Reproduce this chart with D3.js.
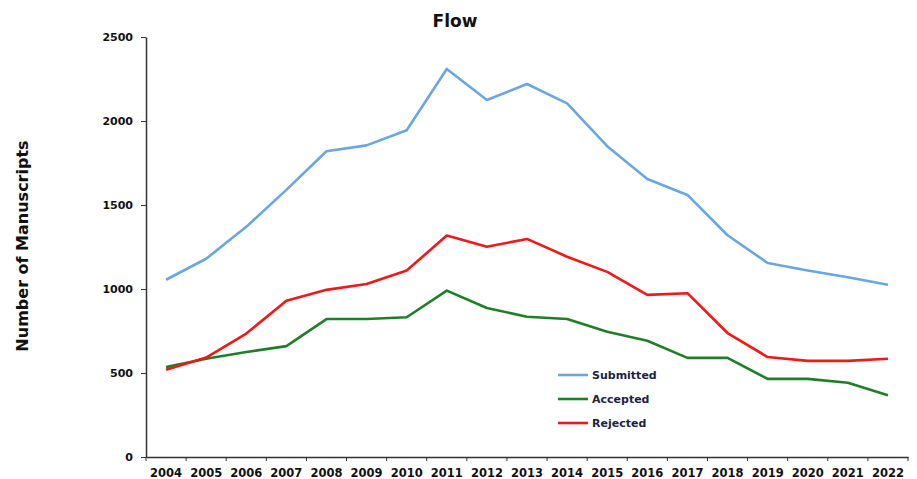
<!DOCTYPE html>
<html>
<head>
<meta charset="utf-8">
<script src="https://cdn.jsdelivr.net/npm/d3@7"></script>
<style>
  body { margin: 0; background: #fff; }
  svg text { font-family: "DejaVu Sans", Verdana, sans-serif; font-weight: bold; fill: #111; }
</style>
</head>
<body>
<svg id="chart" width="917" height="479"></svg>
<script>
// categories
const years = ['2004', '2005', '2006', '2007', '2008', '2009', '2010', '2011', '2012', '2013',
  '2014', '2015', '2016', '2017', '2018', '2019', '2020', '2021', '2022'];

// series values
const submitted = [1055, 1180, 1370, 1590, 1820, 1855, 1945, 2310, 2125, 2220,
  2105, 1850, 1655, 1560, 1320, 1155, 1110, 1070, 1025];
const accepted = [535, 585, 625, 660, 821, 821, 832, 990, 887, 835,
  821, 745, 692, 590, 590, 465, 465, 442, 368];
const rejected = [520, 592, 735, 930, 995, 1030, 1110, 1318, 1252, 1298,
  1192, 1102, 965, 975, 738, 595, 572, 572, 585];

const yTicks = [0, 500, 1000, 1500, 2000, 2500];

const series = [
  { name: 'Submitted', values: submitted, color: '#6aa6e2' },
  { name: 'Accepted', values: accepted, color: '#1f7f26' },
  { name: 'Rejected', values: rejected, color: '#f01818' }
];

const svg = d3.select('svg#chart');
const margin = { left: 146, right: 9, top: 37, bottom: 22 };
const width = 917, height = 479;

// x is a band scale, points sit in the middle of each band
const x = d3.scaleBand()
  .domain(years)
  .range([margin.left, width - margin.right])
  .padding(0);
const y = d3.scaleLinear()
  .domain([0, 2500])
  .range([height - margin.bottom, margin.top]);
const xc = d => x(d) + x.bandwidth() / 2;

// title
svg.append('text')
  .attr('x', 455)
  .attr('y', 27)
  .attr('text-anchor', 'middle')
  .style('font-size', '17px')
  .text('Flow');

// y axis label
svg.append('text')
  .attr('transform', 'translate(22,246) rotate(-90)')
  .attr('text-anchor', 'middle')
  .attr('dy', '0.35em')
  .style('font-size', '16px')
  .text('Number of Manuscripts');

// y axis
const yAxis = svg.append('g')
  .attr('transform', `translate(${margin.left},0)`)
  .call(d3.axisLeft(y).tickValues(yTicks).tickFormat(d3.format('d'))
    .tickSize(5).tickPadding(8).tickSizeOuter(0));
yAxis.selectAll('text').style('font-size', '11px');

// x axis: labels centred, ticks at band boundaries
const xAxis = svg.append('g')
  .attr('transform', `translate(0,${y(0)})`)
  .call(d3.axisBottom(x).tickSize(0).tickPadding(12).tickSizeOuter(0));
xAxis.selectAll('text').style('font-size', '11.5px');
xAxis.selectAll('.tick-b')
  .data(years.concat(['end']))
  .enter()
  .append('line')
  .attr('class', 'tick-b')
  .attr('x1', d => d === 'end' ? x.range()[1] : x(d))
  .attr('x2', d => d === 'end' ? x.range()[1] : x(d))
  .attr('y1', 0)
  .attr('y2', 4)
  .attr('stroke', '#333');

svg.selectAll('.domain').attr('stroke', '#333').attr('stroke-width', 1.5);
svg.selectAll('.tick line').attr('stroke', '#333');

// lines
const line = d3.line()
  .x((d, i) => xc(years[i]))
  .y(d => y(d));

svg.append('g')
  .selectAll('path')
  .data(series)
  .enter()
  .append('path')
  .attr('fill', 'none')
  .attr('stroke', d => d.color)
  .attr('stroke-width', 2.6)
  .attr('stroke-linejoin', 'round')
  .attr('d', d => line(d.values));

// legend
const legend = svg.append('g').attr('transform', 'translate(558,375)');
const rows = legend.selectAll('g')
  .data(series)
  .enter()
  .append('g')
  .attr('transform', (d, i) => `translate(0,${i * 24})`);
rows.append('line')
  .attr('x1', 0)
  .attr('x2', 30)
  .attr('stroke', d => d.color)
  .attr('stroke-width', 2.6);
rows.append('text')
  .attr('x', 34)
  .attr('dy', '0.35em')
  .style('font-size', '11px')
  .style('fill', '#1c2340')
  .text(d => d.name);
</script>
</body>
</html>
